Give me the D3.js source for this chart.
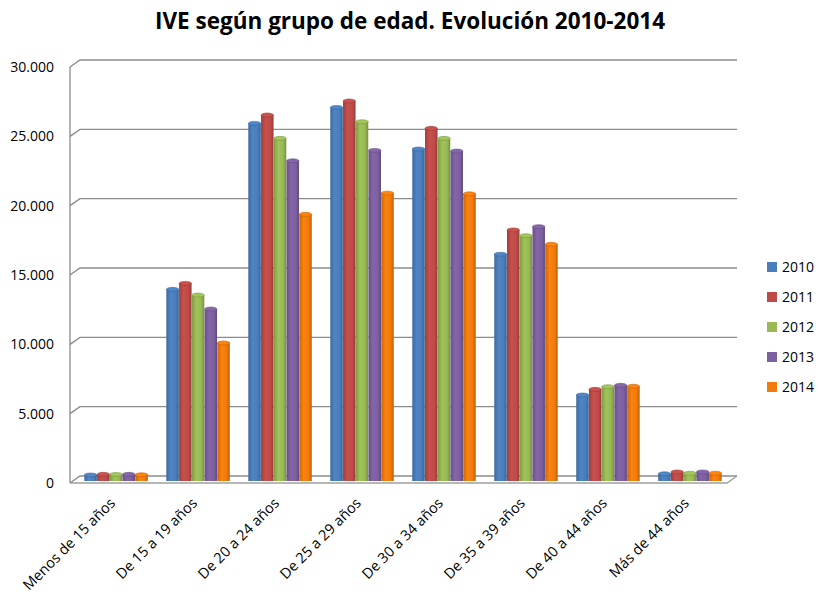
<!DOCTYPE html>
<meta charset="utf-8">
<head>
    <title>IVE según grupo de edad</title>
    <script type="text/javascript" src="https://d3js.org/d3.v7.min.js"></script>
    <style>
        body { margin: 0; background: #fff; }
        text { font-family: "Open Sans", "Liberation Sans", sans-serif; fill: #000; }
    </style>
</head>
<body>
<div id="chart"></div>
<script>
    // data
    var groups = ["Menos de 15 años", "De 15 a 19 años", "De 20 a 24 años", "De 25 a 29 años",
                  "De 30 a 34 años", "De 35 a 39 años", "De 40 a 44 años", "Más de 44 años"]
    var years = ["2010", "2011", "2012", "2013", "2014"]
    var v2010 = [430, 13820, 25790, 26940, 23940, 16350, 6200, 520]
    var v2011 = [480, 14250, 26390, 27400, 25430, 18100, 6610, 650]
    var v2012 = [470, 13410, 24710, 25910, 24710, 17690, 6800, 560]
    var v2013 = [480, 12400, 23090, 23840, 23790, 18340, 6900, 650]
    var v2014 = [450, 9950, 19230, 20760, 20710, 17070, 6830, 560]
    var yTicks = [0, 5000, 10000, 15000, 20000, 25000, 30000]
    var colors = ["#4A7EBB", "#BE4B48", "#98B954", "#7D60A0", "#F07B0C"]

    var series = [v2010, v2011, v2012, v2013, v2014]

    var width = 818, height = 596
    var depth = {dx: 10, dy: -7}   // offset of the back wall

    var svg = d3.select("#chart").append("svg")
      .attr("width", width)
      .attr("height", height)

    var x0 = d3.scaleBand().domain(groups).range([78, 724]).paddingInner(0.22).paddingOuter(0.05)
    var x1 = d3.scaleBand().domain(years).range([0, x0.bandwidth()]).padding(0.02)
    var y = d3.scaleLinear().domain([0, 30000]).range([483, 67])
    var color = d3.scaleOrdinal().domain(years).range(colors)

    // gradients for the cylinder look
    var defs = svg.append("defs")
    years.forEach(function(yr) {
      var c = d3.color(color(yr))
      var g = defs.append("linearGradient").attr("id", "g" + yr)
        .attr("x1", "0%").attr("x2", "100%").attr("y1", "0%").attr("y2", "0%")
      g.append("stop").attr("offset", "0%").attr("stop-color", c.darker(0.5))
      g.append("stop").attr("offset", "35%").attr("stop-color", c.brighter(0.15))
      g.append("stop").attr("offset", "75%").attr("stop-color", c)
      g.append("stop").attr("offset", "100%").attr("stop-color", c.darker(0.7))
    })

    // title
    svg.append("text")
      .attr("x", 410).attr("y", 29)
      .attr("text-anchor", "middle")
      .style("font-size", "22.5px").style("font-weight", "bold")
      .text("IVE según grupo de edad. Evolución 2010-2014")

    var left = 70, right = 727

    // walls: axis line and gridlines
    var grid = svg.append("g").attr("id", "grid")
    grid.append("line")
      .attr("x1", left).attr("x2", left)
      .attr("y1", y(30000)).attr("y2", y(0))
      .attr("stroke", "#8a8a8a").attr("stroke-width", 1.3)
    yTicks.forEach(function(t) {
      grid.append("path")
        .attr("d", "M" + left + "," + y(t) + "L" + (left + depth.dx) + "," + (y(t) + depth.dy) +
                   "L" + (right + depth.dx) + "," + (y(t) + depth.dy))
        .attr("fill", "none").attr("stroke", "#8c8c8c").attr("stroke-width", 1.4)
    })
    // floor front edge
    grid.append("path")
      .attr("d", "M" + left + "," + y(0) + "L" + right + "," + y(0) + "L" + (right + depth.dx) + "," + (y(0) + depth.dy))
      .attr("fill", "none").attr("stroke", "#a0a0a0").attr("stroke-width", 1.5)

    // y labels
    svg.append("g").selectAll("text")
      .data(yTicks).enter().append("text")
      .attr("x", 54).attr("y", function(d) { return y(d) + 5 })
      .attr("text-anchor", "end")
      .style("font-size", "14px")
      .text(function(d) { return d === 0 ? "0" : d3.format(",")(d).replace(/,/g, ".") })

    // bars (placed a little into the depth)
    var bx = 2, by = -2
    var bars = svg.append("g").attr("id", "bars")
    groups.forEach(function(gname, i) {
      var g = bars.append("g").attr("transform", "translate(" + (x0(gname) + bx) + "," + by + ")")
      years.forEach(function(yr, j) {
        var v = series[j][i]
        var w = x1.bandwidth()
        g.append("rect")
          .attr("x", x1(yr)).attr("y", y(v))
          .attr("width", w).attr("height", y(0) - y(v))
          .attr("fill", "url(#g" + yr + ")")
        g.append("ellipse")
          .attr("cx", x1(yr) + w / 2).attr("cy", y(v))
          .attr("rx", w / 2).attr("ry", 2)
          .attr("fill", d3.color(color(yr)).brighter(0.2))
          .attr("stroke", d3.color(color(yr)).darker(0.6)).attr("stroke-width", 0.6)
      })
    })

    // x labels
    svg.append("g").selectAll("text")
      .data(groups).enter().append("text")
      .attr("transform", function(d) {
        return "translate(" + (x0(d) + x0.bandwidth() / 2 + 2) + ",504) rotate(-45)"
      })
      .attr("text-anchor", "end")
      .style("font-size", "14.5px")
      .text(function(d) { return d })

    // legend
    var legend = svg.append("g").attr("id", "legend")
    years.forEach(function(yr, i) {
      legend.append("rect")
        .attr("x", 767).attr("y", 262 + i * 30)
        .attr("width", 10).attr("height", 10)
        .attr("fill", color(yr))
      legend.append("text")
        .attr("x", 782).attr("y", 272 + i * 30)
        .style("font-size", "14px")
        .text(yr)
    })
</script>
</body>
</html>
